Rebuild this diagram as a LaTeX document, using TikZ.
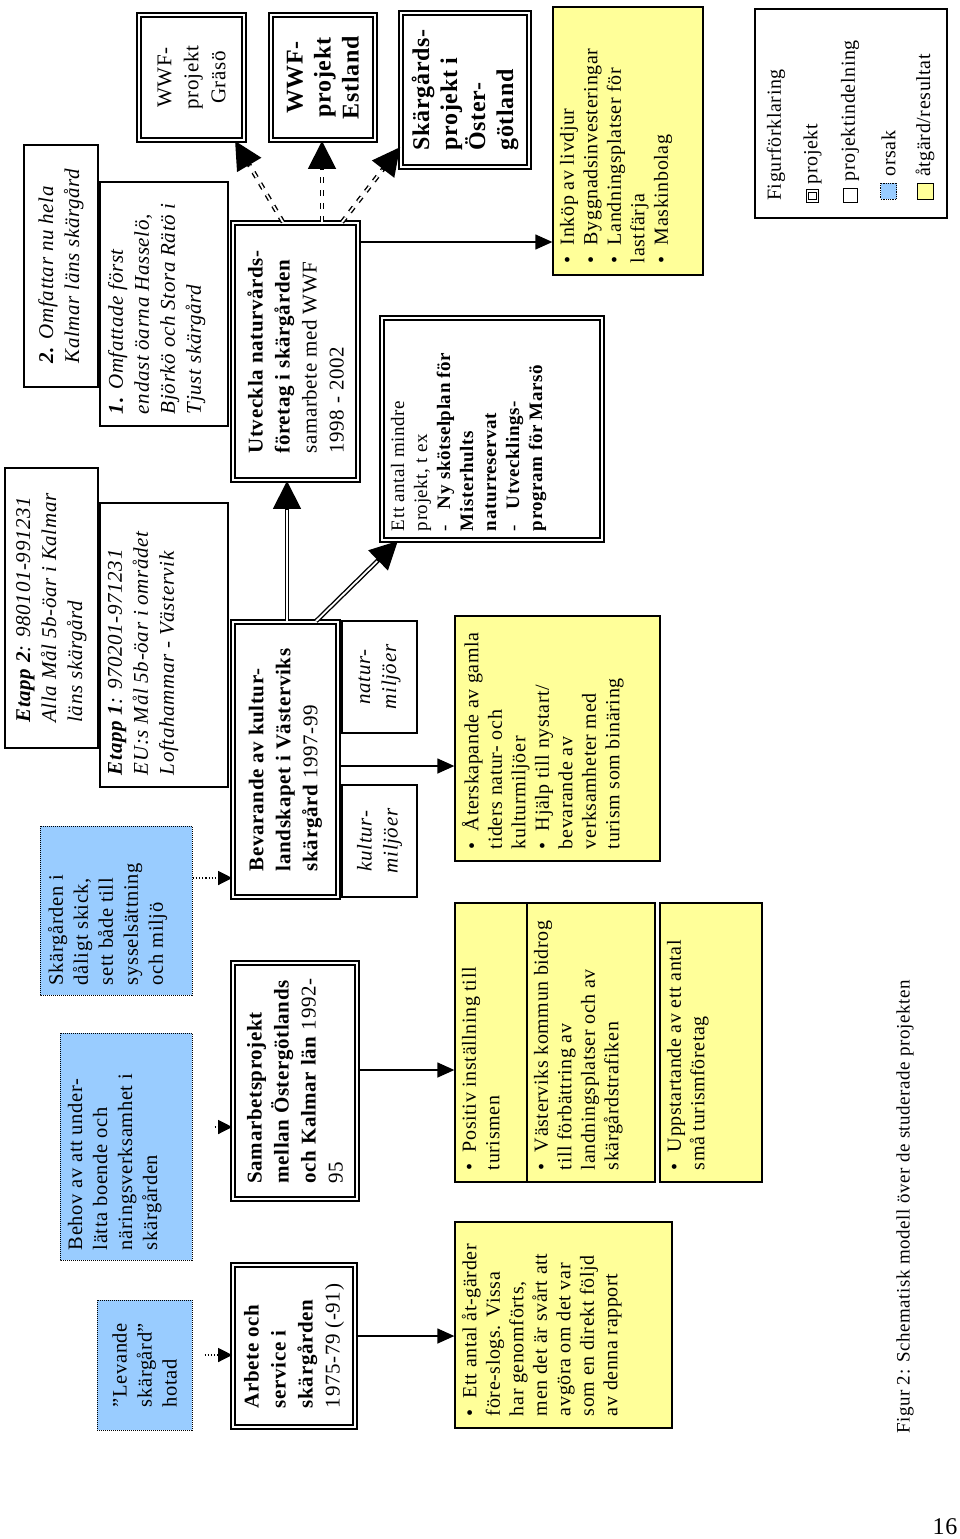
\documentclass[tikz,border=0pt]{standalone}
\usepackage{fontspec}
\setmainfont{Liberation Serif}[LetterSpace=3]
\usetikzlibrary{arrows.meta}
\definecolor{resyellow}{HTML}{FFFF99}
\definecolor{causeblue}{HTML}{99CCFF}
\newcommand{\tbox}[3]{\parbox[c][#2][t]{#1}{\raggedright #3}}
\newcommand{\blt}{\hangindent=18pt\hangafter=1\noindent\hbox to 18pt{\textbullet\hfil}}
\newcommand{\dsh}{\hangindent=22pt\hangafter=1\noindent\hbox to 22pt{-\hfil}}
\tikzset{proj/.style={draw,double,line width=1.6pt,double distance=2.4pt,fill=white,
        rotate=90,inner sep=9pt,font=\fontsize{21}{27}\selectfont},
    part/.style={draw,line width=1.4pt,fill=white,rotate=90,inner xsep=12pt,inner ysep=8pt,
        font=\itshape\fontsize{21}{26}\selectfont},
    cause/.style={draw,densely dotted,line width=1pt,fill=causeblue,rotate=90,
        inner xsep=10pt,inner ysep=8pt,font=\fontsize{20.5}{25}\selectfont},
    res/.style={draw,line width=1.3pt,fill=resyellow,rotate=90,inner xsep=12pt,inner ysep=7pt,
        font=\fontsize{20}{23.5}\selectfont},
    vtxt/.style={rotate=90,inner sep=3pt,font=\fontsize{20}{24}\selectfont},
    legtxt/.style={vtxt,inner xsep=6pt,anchor=west},
    arr/.style={line width=1.3pt,-{Triangle[length=17pt,width=15pt]}},
    dotarr/.style={line width=1.2pt,dotted,-{Triangle[length=14pt,width=14pt]}},
    dblarr/.style={line width=4.6pt,-{Triangle[length=28pt,width=27pt]},
        postaction={draw=white,line width=1.8pt,-,shorten >=29pt}},
    dasharr/.style={dblarr,dash pattern=on 6pt off 7pt}}
\begin{document}
\begin{tikzpicture}[x=1pt,y=-1pt]
\useasboundingbox[fill=white] (0,0) rectangle (960,1539);

\node[part,align=left,minimum width=280pt,minimum height=93pt] (etapp2) at (51.5,608)
    {\textbf{Etapp 2}: 980101-991231\\Alla Mål 5b-öar i Kalmar\\läns skärgård};
\node[part] (etapp1) at (164,645)
    {\tbox{260pt}{112pt}{\textbf{Etapp 1}: 970201-971231\\EU:s Mål 5b-öar i området\\Loftahammar - Västervik}};
\node[part,align=left,minimum width=242pt,minimum height=74pt] (omf2) at (61,266)
    {\textbf{2.} Omfattar nu hela\\Kalmar läns skärgård};
\node[part] (omf1) at (164,304)
    {\tbox{220pt}{112pt}{\textbf{1.} Omfattade först\\endast öarna Hasselö,\\Björkö och Stora Rätö i\\Tjust skärgård}};

\node[cause,align=left,minimum width=130pt,minimum height=95pt] (lev) at (144.5,1365)
    {”Levande\\skärgård”\\hotad};
\node[cause] (behov) at (126,1146.5)
    {\tbox{207pt}{116pt}{Behov av att under-\\lätta boende och\\näringsverksamhet i\\skärgården}};
\node[cause] (skick) at (116,910.5)
    {\tbox{149pt}{136pt}{Skärgården i\\dåligt skick,\\sett både till\\sysselsättning\\och miljö}};

\node[proj,align=left,minimum width=162pt,minimum height=122pt] (arb) at (294,1346)
    {\textbf{Arbete och}\\\textbf{service i}\\\textbf{skärgården}\\1975-79 (-91)};
\node[proj,align=left,minimum width=236pt,minimum height=124pt] (sam) at (295,1081)
    {\textbf{Samarbetsprojekt}\\\textbf{mellan Östergötlands}\\\textbf{och Kalmar län} 1992-\\95};
\node[proj,align=left,minimum width=275pt,minimum height=105pt] (bev) at (285.5,759.5)
    {\textbf{Bevarande av kultur-}\\\textbf{landskapet i Västerviks}\\\textbf{skärgård} 1997-99};
\node[part,align=center,minimum width=112pt,minimum height=75pt] (natur) at (379.5,677) {natur-\\miljöer};
\node[part,align=center,minimum width=112pt,minimum height=75pt] (kultur) at (379.5,841) {kultur-\\miljöer};
\node[proj,align=left,minimum width=257pt,minimum height=125pt] (utv) at (295.5,351.5)
    {\textbf{Utveckla naturvårds-}\\\textbf{företag i skärgården}\\samarbete med WWF\\1998 - 2002};
\node[proj,align=center,minimum width=125pt,minimum height=105pt] (grs) at (191.5,77.5)
    {WWF-\\projekt\\Gräsö};
\node[proj,align=center,minimum width=125pt,minimum height=104pt,
    font=\bfseries\fontsize{24}{28}\selectfont] (est) at (323,77.5) {WWF-\\projekt\\Estland};
\node[proj,align=left,minimum width=154pt,minimum height=128pt,
    font=\bfseries\fontsize{24}{28}\selectfont] (skost) at (465,90) {Skärgårds-\\projekt i\\Öster-\\götland};
\node[proj,font=\fontsize{19}{23}\selectfont] (mindre) at (492,429)
    {\tbox{204pt}{202pt}{Ett antal mindre\\projekt, t ex\par
    \dsh\textbf{Ny skötselplan för}\\\textbf{Misterhults}\\\textbf{naturreservat}\par
    \dsh\textbf{Utvecklings-}\\\textbf{program för Marsö}}};

\node[res] (atg) at (563.5,1325)
    {\tbox{182pt}{203pt}{\blt Ett antal åt-gärder\\före-slogs. Vissa\\har genomförts,\\men det är svårt att\\avgöra om det var\\som en direkt följd\\av denna rapport}};
\node[res] (pos) at (491,1042.5) {\tbox{255pt}{58pt}{\blt Positiv inställning till\\turismen}};
\node[res] (vast) at (591,1042.5)
    {\tbox{255pt}{114pt}{\blt Västerviks kommun bidrog\\till förbättring av\\landningsplatser och av\\skärgårdstrafiken}};
\node[res] (upp) at (711,1042.5) {\tbox{255pt}{88pt}{\blt Uppstartande av ett antal\\små turismföretag}};
\node[res] (ater) at (557.5,738.5)
    {\tbox{221pt}{191pt}{\blt Återskapande av gamla\\tiders natur- och\\kulturmiljöer\par
    \blt Hjälp till nystart/\\bevarande av\\verksamheter med\\turism som binäring}};
\node[res] (inkop) at (628,141)
    {\tbox{244pt}{136pt}{\blt Inköp av livdjur\par\blt Byggnadsinvesteringar\par
    \blt Landningsplatser för\\lastfärja\par\blt Maskinbolag}};

\node[draw,line width=1.3pt,rotate=90,minimum width=209pt,minimum height=192pt] (leg) at (851,113.5) {};
\node[vtxt,anchor=west] (legh) at (776,204) {Figurförklaring};
\node[draw,double,line width=0.8pt,double distance=1.8pt,minimum size=10pt,inner sep=0pt,rotate=90] (ic1) at (812.5,196) {};
\node[legtxt] (lt1) at (ic1.east) {projekt};
\node[draw,line width=1pt,minimum size=14pt,inner sep=0pt,rotate=90] (ic2) at (850,195) {};
\node[legtxt] (lt2) at (ic2.east) {projektindelning};
\node[draw,densely dotted,line width=0.8pt,fill=causeblue,minimum size=16pt,inner sep=0pt,rotate=90] (ic3) at (888.5,191) {};
\node[legtxt] (lt3) at (ic3.east) {orsak};
\node[draw,line width=1pt,fill=resyellow,minimum size=16pt,inner sep=0pt,rotate=90] (ic4) at (925,191.5) {};
\node[legtxt] (lt4) at (ic4.east) {åtgärd/resultat};

\node[vtxt,anchor=west,font=\fontsize{19}{23}\selectfont] (title) at (905,1437)
    {Figur 2: Schematisk modell över de studerade projekten};
\node[font=\fontsize{24}{28}\selectfont] (pnum) at (945,1527) {16};

\draw[dotarr,shorten <=12pt] (lev.south |- 0,1355) -- (arb.north |- 0,1355);
\draw[dotarr,shorten <=22pt] (behov.south |- 0,1127) -- (sam.north |- 0,1127);
\draw[dotarr] (skick.south |- 0,878) -- (bev.north |- 0,878);
\draw[arr] (arb.south |- 0,1336) -- (atg.north |- 0,1336);
\draw[arr] (sam.south |- 0,1070) -- (pos.north |- 0,1070);
\draw[arr] (bev.south |- 0,766) -- (ater.north |- 0,766);
\draw[arr] (utv.south |- 0,242) -- (inkop.north |- 0,242);
\draw[dblarr] (bev.east -| 287,0) -- (utv.west -| 287,0);
\draw[dblarr] (bev.east -| 316,0) -- (mindre.west -| 398,0);
\draw[dasharr] (utv.east -| 283,0) -- (grs.west -| 235,0);
\draw[dasharr] (utv.east -| 322,0) -- (est.west -| 322,0);
\draw[dasharr] (utv.east -| 342,0) -- (skost.north |- 0,147);
\end{tikzpicture}
\end{document}
